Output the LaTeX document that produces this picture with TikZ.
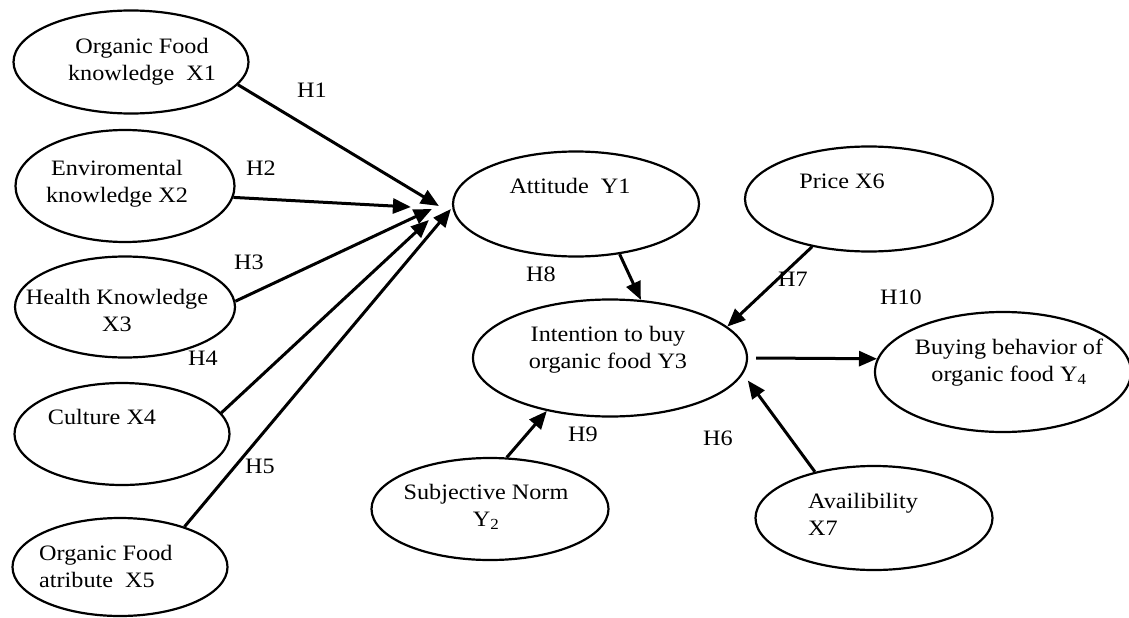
\documentclass[tikz,border=0pt]{standalone}
\usepackage{fontspec}
\setmainfont{Liberation Serif}[FakeStretch=1.1]
\usetikzlibrary{arrows.meta,shapes,calc}

\begin{document}
\begin{tikzpicture}[x=1pt,y=-1pt]
            \tikzset{latent/.style = {draw, ellipse, line width=2.2pt, inner sep=0pt}}
            \tikzset{caption/.style = {font=\fontsize{22}{27}\selectfont, inner sep=0pt, align=center}}
            \tikzset{hypo/.style = {line width=3pt, -{Triangle[length=18pt,width=15pt]}}}
            \useasboundingbox (0,0) rectangle (1129,618);

            % ellipses
            \node[latent, minimum width=235pt, minimum height=103pt] (x1) at (131,62) {};
            \node[latent, minimum width=219pt, minimum height=112pt] (x2) at (125,186) {};
            \node[latent, minimum width=220pt, minimum height=101pt] (x3) at (125,307) {};
            \node[latent, minimum width=215pt, minimum height=102pt] (x4) at (122,434) {};
            \node[latent, minimum width=215pt, minimum height=98pt] (x5) at (120,567) {};
            \node[latent, minimum width=246pt, minimum height=105pt] (y1) at (576,204) {};
            \node[latent, minimum width=248pt, minimum height=105pt] (x6) at (869,199) {};
            \node[latent, minimum width=274pt, minimum height=117pt] (y3) at (610,358) {};
            \node[latent, minimum width=256pt, minimum height=120pt] (y4) at (1003,372) {};
            \node[latent, minimum width=237pt, minimum height=102pt] (y2) at (490,509) {};
            \node[latent, minimum width=237pt, minimum height=104pt] (x7) at (874,518) {};

            % texts
            \node[caption] (x1text) at (142,62) {Organic Food\\knowledge~ X1};
            \node[caption] (x2text) at (117,184) {Enviromental\\knowledge X2};
            \node[caption] (x3text) at (117,310) {Health Knowledge\\X3};
            \node[caption] (x4text) at (102,417) {Culture X4};
            \node[caption, anchor=west, align=left] (x5text) at (39,566) {Organic Food\\atribute~ X5};
            \node[caption] (y1text) at (570,186) {Attitude~ Y1};
            \node[caption] (x6text) at (842,181) {Price X6};
            \node[caption] (y3text) at (608,350) {Intention to buy\\organic food Y3};
            \node[caption] (y4text) at (1009,363) {Buying behavior of\\organic food Y\textsubscript{4}};
            \node[caption] (y2text) at (486,507) {Subjective Norm\\Y\textsubscript{2}};
            \node[caption, anchor=west, align=left] (x7text) at (808,514) {Availibility\\X7};

            % hypotheses
            \foreach \n/\x/\y in {1/312/90,2/261/168,3/249/262,4/203/358,5/260/466,6/718/438,7/793/279,8/541/274,9/583/434,10/901/297}
            {
              \node[caption] (h\n) at (\x,\y) {H\n};
            }

            % arrows
            \draw[hypo] (x1.-12) to ([xshift=-13pt,yshift=-2pt]y1.west);
            \draw[hypo] (x2.-6) to ([xshift=-41pt,yshift=-3pt]y1.west);
            \draw[hypo] (x3.3) to ([xshift=-20pt,yshift=-5pt]y1.west);
            \draw[hypo] (x4.12) to ([xshift=-23pt,yshift=-16pt]y1.west);
            \draw[hypo] (x5.32) to ([xshift=-1pt,yshift=-5pt]y1.west);
            \draw[hypo] (y1.-49) to (y3.62);
            \draw[hypo] (x6.-140) to (y3.15);
            \draw[hypo] (x7.142) to ([xshift=10pt]y3.-10);
            \draw[hypo] (y2.72) to (y3.-140);
            \draw[hypo] ([xshift=8pt]y3.east) to (y4.174);

          \end{tikzpicture}
\end{document}
